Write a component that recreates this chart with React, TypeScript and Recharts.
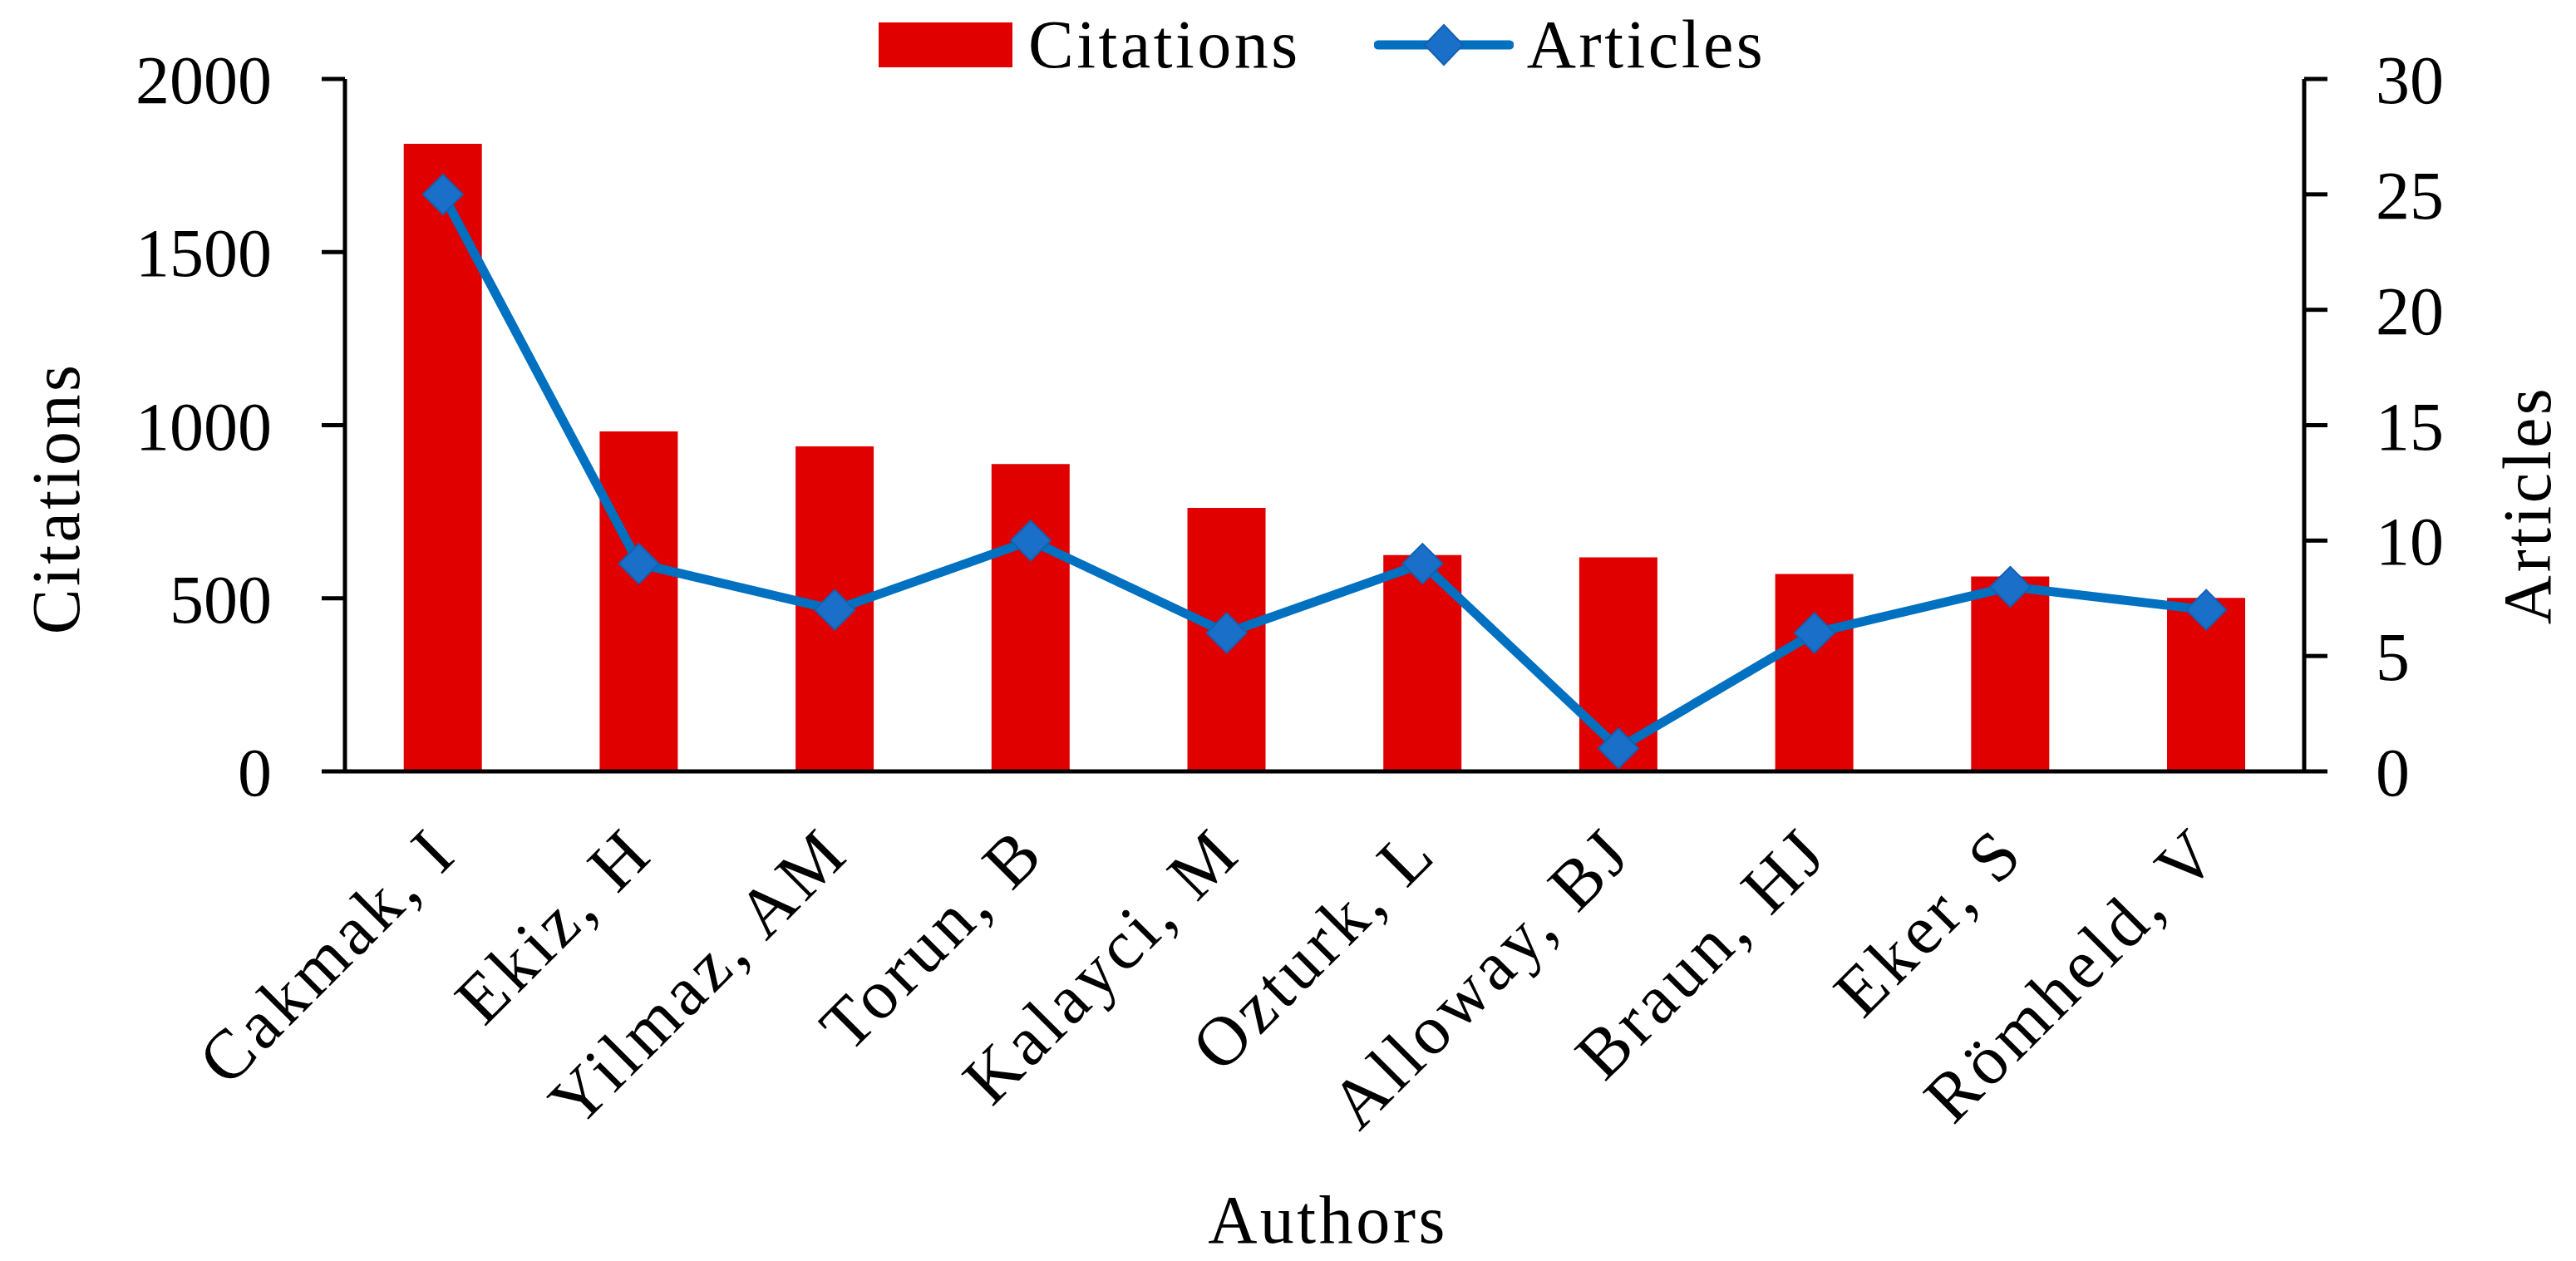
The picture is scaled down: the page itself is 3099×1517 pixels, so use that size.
import React from "react";
import {
  Bar,
  ComposedChart,
  Label,
  Legend,
  Line,
  XAxis,
  YAxis,
} from "recharts";

const authors = [
  "Cakmak, I",
  "Ekiz, H",
  "Yilmaz, AM",
  "Torun, B",
  "Kalayci, M",
  "Ozturk, L",
  "Alloway, BJ",
  "Braun, HJ",
  "Eker, S",
  "Römheld, V",
];
const citations = [1813, 982, 939, 888, 761, 625, 618, 570, 563, 501];
const articles = [25, 9, 7, 10, 6, 9, 1, 6, 8, 7];
const citationTicks = [0, 500, 1000, 1500, 2000];
const articleTicks = [0, 5, 10, 15, 20, 25, 30];

const data = authors.map((name, i) => ({
  name,
  citations: citations[i],
  articles: articles[i],
}));

const FONT = "'Liberation Serif', 'Times New Roman', serif";
const RED = "#E00000";
const BLUE = "#0070C0";
const MARKER = "#1A6FC9";

const axisStyle = { stroke: "#000", strokeWidth: 5 };
const tickStyle = { fill: "#000", fontSize: 82, fontFamily: FONT };

// diamond marker for the Articles line
const Diamond = (props: any) => {
  const { cx, cy } = props;
  if (cx == null || cy == null) return null;
  const r = 24;
  return (
    <path
      d={`M${cx},${cy - r} L${cx + r},${cy} L${cx},${cy + r} L${cx - r},${cy} Z`}
      fill={MARKER}
      stroke="#1560B0"
      strokeWidth={2}
    />
  );
};

const AuthorTick = (props: any) => {
  const { x, y, payload } = props;
  return (
    <text
      x={x}
      y={y}
      transform={`rotate(-45, ${x}, ${y})`}
      textAnchor="end"
      dominantBaseline="central"
      fill="#000"
      fontSize={84}
      fontFamily={FONT}
      letterSpacing={5}
    >
      {payload.value}
    </text>
  );
};

const LegendBox = (props: any) => {
  // bars first, then the line, as in the original figure
  const items = [...(props.payload || [])].sort(
    (a: any, b: any) => (a.type === "rect" ? 0 : 1) - (b.type === "rect" ? 0 : 1)
  );
  return (
    <div
      style={{
        display: "flex",
        justifyContent: "flex-start",
        alignItems: "center",
        height: 108,
        paddingLeft: 1057,
        fontFamily: FONT,
        fontSize: 82,
        letterSpacing: 3.5,
        lineHeight: 1,
      }}
    >
      {items.map((item: any, i: number) => (
        <div
          key={item.value}
          style={{ display: "flex", alignItems: "center", marginLeft: i === 0 ? 0 : 88 }}
        >
          {item.type === "rect" ? (
            <div style={{ width: 161, height: 54, background: RED }} />
          ) : (
            <svg width={168} height={52}>
              <line x1={5} y1={26} x2={163} y2={26} stroke={BLUE} strokeWidth={11} strokeLinecap="round" />
              <path d="M84,2 L107,26 L84,50 L61,26 Z" fill={MARKER} stroke="#1560B0" strokeWidth={2} />
            </svg>
          )}
          <span style={{ marginLeft: item.type === "rect" ? 19 : 16, color: "#000" }}>
            {item.value}
          </span>
        </div>
      ))}
    </div>
  );
};

const leftTitle = (props: any) => {
  const vb = props.viewBox;
  const x = vb.x + 67;
  const y = vb.y + vb.height / 2 + 88;
  return (
    <text
      x={x}
      y={y}
      transform={`rotate(-90, ${x}, ${y})`}
      textAnchor="middle"
      dominantBaseline="central"
      fontSize={82}
      fontFamily={FONT}
      letterSpacing={3.5}
      fill="#000"
    >
      Citations
    </text>
  );
};

const rightTitle = (props: any) => {
  const vb = props.viewBox;
  const x = vb.x + 268;
  const y = vb.y + vb.height / 2 + 96;
  return (
    <text
      x={x}
      y={y}
      transform={`rotate(-90, ${x}, ${y})`}
      textAnchor="middle"
      dominantBaseline="central"
      fontSize={82}
      fontFamily={FONT}
      letterSpacing={3.5}
      fill="#000"
    >
      Articles
    </text>
  );
};

const bottomTitle = (props: any) => {
  const vb = props.viewBox;
  return (
    <text
      x={vb.x + vb.width / 2 + 4}
      y={vb.y + 567}
      textAnchor="middle"
      fontSize={82}
      fontFamily={FONT}
      letterSpacing={3.5}
      fill="#000"
    >
      Authors
    </text>
  );
};

export default function App() {
  return (
    <div style={{ position: "absolute", left: 0, top: 0, background: "#fff" }}>
      <ComposedChart
        width={3099}
        height={1517}
        data={data}
        margin={{ top: 95, right: 0, bottom: 0, left: 0 }}
        barCategoryGap="30%"
      >
        <XAxis
          dataKey="name"
          height={589}
          interval={0}
          axisLine={axisStyle}
          tickLine={false}
          tickSize={0}
          tickMargin={82}
          tick={<AuthorTick />}
        >
          <Label content={bottomTitle} />
        </XAxis>
        <YAxis
          yAxisId="left"
          width={415}
          domain={[0, 2000]}
          ticks={citationTicks}
          axisLine={axisStyle}
          tickLine={axisStyle}
          tickSize={28}
          tickMargin={60}
          tick={tickStyle}
        >
          <Label content={leftTitle} />
        </YAxis>
        <YAxis
          yAxisId="right"
          orientation="right"
          width={327}
          domain={[0, 30]}
          ticks={articleTicks}
          axisLine={axisStyle}
          tickLine={axisStyle}
          tickSize={28}
          tickMargin={58}
          tick={tickStyle}
        >
          <Label content={rightTitle} />
        </YAxis>
        <Legend
          layout="horizontal"
          align="center"
          verticalAlign="middle"
          content={<LegendBox />}
          wrapperStyle={{ position: "absolute", top: 0, left: 0, width: 3099 }}
        />
        <Bar
          yAxisId="left"
          dataKey="citations"
          name="Citations"
          fill={RED}
          legendType="rect"
          isAnimationActive={false}
        />
        <Line
          yAxisId="right"
          dataKey="articles"
          name="Articles"
          type="linear"
          stroke={BLUE}
          strokeWidth={11}
          dot={<Diamond />}
          activeDot={false}
          legendType="line"
          isAnimationActive={false}
        />
      </ComposedChart>
    </div>
  );
}
